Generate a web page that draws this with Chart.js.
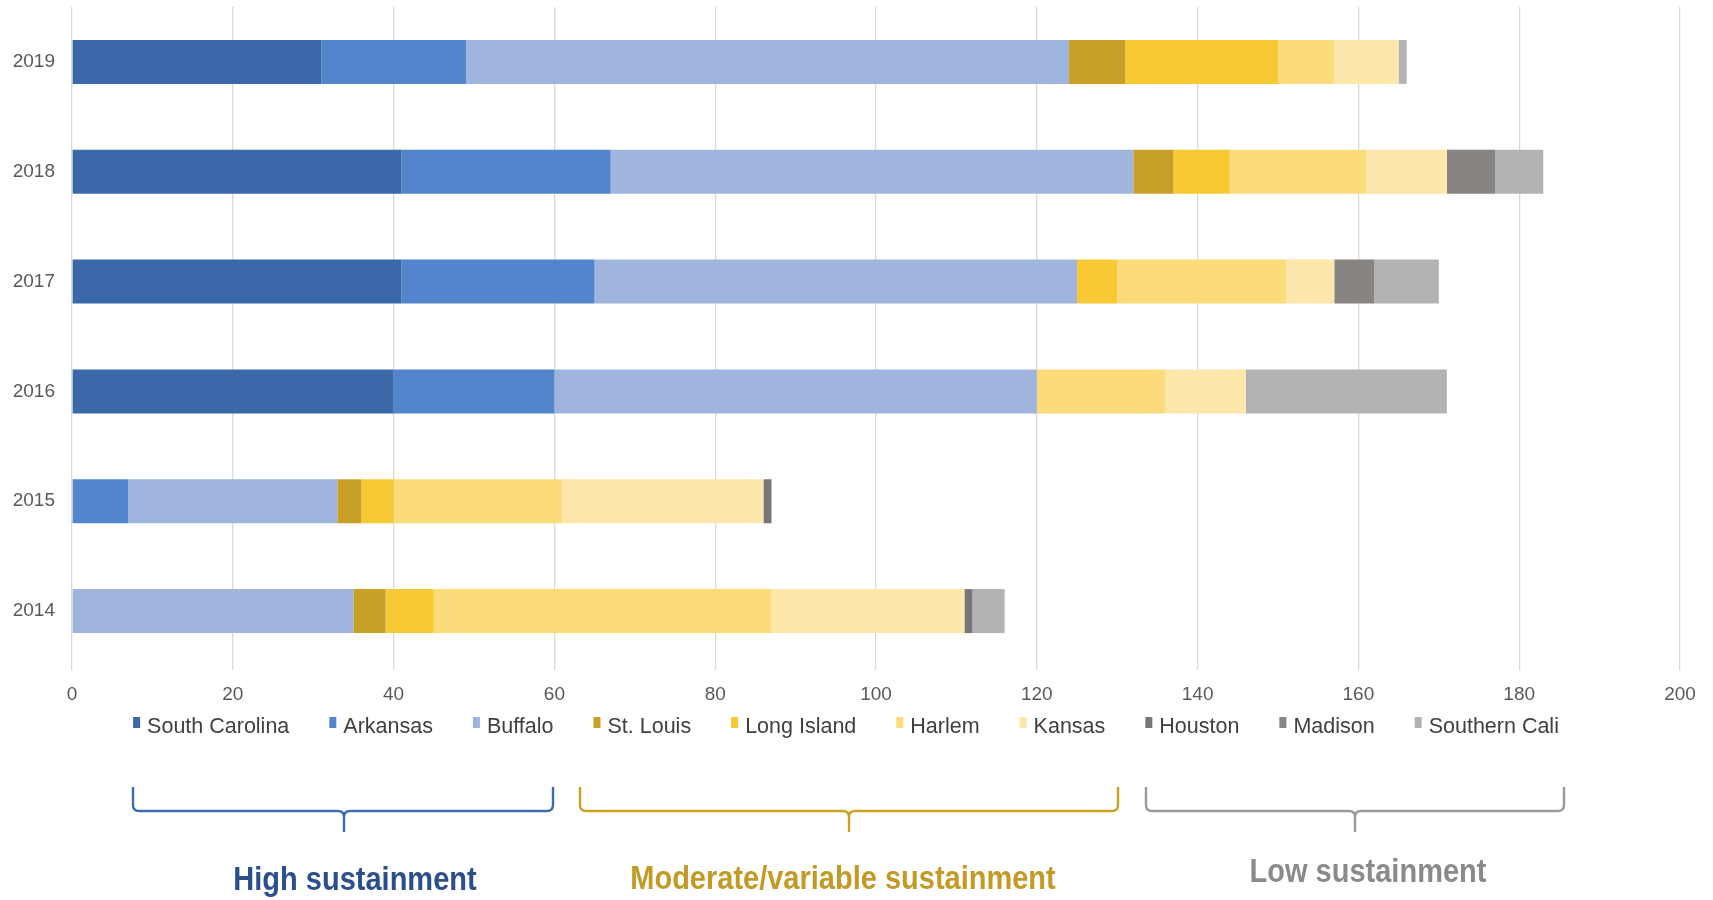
<!DOCTYPE html>
<html>
<head>
<meta charset="utf-8">
<title>Sustainment by site</title>
<script src="https://cdn.jsdelivr.net/npm/chart.js@4.4.1/dist/chart.umd.min.js"></script>
<style>
  html, body { margin: 0; padding: 0; background: #fff; }
  #wrap { width: 1713px; height: 900px; position: relative; }
</style>
</head>
<body>
<div id="wrap"><canvas id="grafico" width="1713" height="900"></canvas></div>
<script>
// Years (top to bottom) and the per-site values for each year
const years = ["2019", "2018", "2017", "2016", "2015", "2014"];

const southCarolina = [31, 41, 41, 40, 0, 0];
const arkansas      = [18, 26, 24, 20, 7, 0];
const buffalo       = [75, 65, 60, 60, 26, 35];
const stLouis       = [7, 5, 0, 0, 3, 4];
const longIsland    = [19, 7, 5, 0, 4, 6];
const harlem        = [7, 17, 21, 16, 21, 42];
const kansas        = [8, 10, 6, 10, 25, 24];
const houston       = [0, 0, 0, 0, 1, 1];
const madison       = [0, 6, 5, 0, 0, 0];
const southernCali  = [1, 6, 8, 25, 0, 4];

const xTicks = [0, 20, 40, 60, 80, 100, 120, 140, 160, 180, 200];

// groups shown under the legend (brace ends, tip and text centre in px)
const grupos = [
    { texto: "High sustainment", x1: 133, x2: 553, ponta: 344, tx: 355, ty: 890, linha: "#3d6db0", cor: "#2c4f8c" },
    { texto: "Moderate/variable sustainment", x1: 580, x2: 1118, ponta: 849, tx: 843, ty: 889, linha: "#c9a227", cor: "#c39a25" },
    { texto: "Low sustainment", x1: 1146, x2: 1564, ponta: 1355, tx: 1368, ty: 882, linha: "#9a9a9a", cor: "#8a8a8a" }
];

const series = [
    { label: "South Carolina", data: southCarolina, color: "#3a68a8" },
    { label: "Arkansas",       data: arkansas,      color: "#5385cd" },
    { label: "Buffalo",        data: buffalo,       color: "#9fb5de" },
    { label: "St. Louis",      data: stLouis,       color: "#c9a027" },
    { label: "Long Island",    data: longIsland,    color: "#f7c935" },
    { label: "Harlem",         data: harlem,        color: "#fbdb7a" },
    { label: "Kansas",         data: kansas,        color: "#fde7aa" },
    { label: "Houston",        data: houston,       color: "#767676" },
    { label: "Madison",        data: madison,       color: "#878482" },
    { label: "Southern Cali",  data: southernCali,  color: "#b3b3b3" }
];

const FONTE = "'Liberation Sans', Arial, sans-serif";

// legend + braces drawn under the axis
const legendaChaves = {
    id: "legendaChaves",
    afterDraw(chart) {
        const ctx = chart.ctx;
        ctx.save();
        ctx.font = "21.5px " + FONTE;
        const gap = 40, marcador = 14;
        const larguras = chart.data.datasets.map(ds => ctx.measureText(ds.label).width);
        const total = larguras.reduce((a, b) => a + b + marcador, 0) + gap * (larguras.length - 1);
        let x = 846 - total / 2;
        chart.data.datasets.forEach((ds, i) => {
            ctx.fillStyle = ds.backgroundColor;
            ctx.fillRect(x, 717, 7, 11);
            ctx.fillStyle = "#404040";
            ctx.textBaseline = "alphabetic";
            ctx.textAlign = "left";
            ctx.fillText(ds.label, x + marcador, 733);
            x += marcador + larguras[i] + gap;
        });

        // curly braces for each group
        grupos.forEach(g => {
            const topo = 787, barra = 811, fim = 832, r = 6;
            ctx.strokeStyle = g.linha;
            ctx.lineWidth = 2.4;
            ctx.beginPath();
            ctx.moveTo(g.x1, topo);
            ctx.lineTo(g.x1, barra - r);
            ctx.quadraticCurveTo(g.x1, barra, g.x1 + r, barra);
            ctx.lineTo(g.ponta - r, barra);
            ctx.quadraticCurveTo(g.ponta, barra, g.ponta, barra + r);
            ctx.lineTo(g.ponta, fim);
            ctx.moveTo(g.ponta, barra + r);
            ctx.quadraticCurveTo(g.ponta, barra, g.ponta + r, barra);
            ctx.lineTo(g.x2 - r, barra);
            ctx.quadraticCurveTo(g.x2, barra, g.x2, barra - r);
            ctx.lineTo(g.x2, topo);
            ctx.stroke();

            // group caption, slightly stretched vertically
            ctx.save();
            ctx.translate(g.tx, g.ty);
            ctx.scale(1, 1.12);
            ctx.fillStyle = g.cor;
            ctx.font = "bold 29px " + FONTE;
            ctx.textAlign = "center";
            ctx.fillText(g.texto, 0, 0);
            ctx.restore();
        });
        ctx.restore();
    }
};

new Chart(document.getElementById("grafico"), {
    type: "bar",
    data: {
        labels: years,
        datasets: series.map(s => ({
            label: s.label,
            data: s.data,
            backgroundColor: s.color,
            borderWidth: 0,
            barPercentage: 0.4,
            categoryPercentage: 1
        }))
    },
    options: {
        indexAxis: "y",
        responsive: false,
        animation: false,
        layout: { padding: { top: 7, right: 33, bottom: 0, left: 0 } },
        scales: {
            x: {
                stacked: true,
                min: 0,
                max: 200,
                afterBuildTicks: scale => { scale.ticks = xTicks.map(v => ({ value: v })); },
                afterFit: scale => { scale.height = 234; },
                grid: { color: "#d9d9d9", lineWidth: 1.3, tickLength: 4, drawTicks: true },
                border: { display: false },
                ticks: { color: "#595959", font: { family: FONTE, size: 19 }, padding: 13, maxRotation: 0 }
            },
            y: {
                stacked: true,
                afterFit: scale => {
                    scale.width = 72;
                    scale.paddingTop = 0;
                    scale.paddingBottom = 0;
                },
                grid: { display: false },
                border: { display: false },
                ticks: { color: "#595959", font: { family: FONTE, size: 19 }, padding: 9 }
            }
        },
        plugins: {
            legend: { display: false },
            tooltip: { enabled: false }
        }
    },
    plugins: [legendaChaves]
});
</script>
</body>
</html>
